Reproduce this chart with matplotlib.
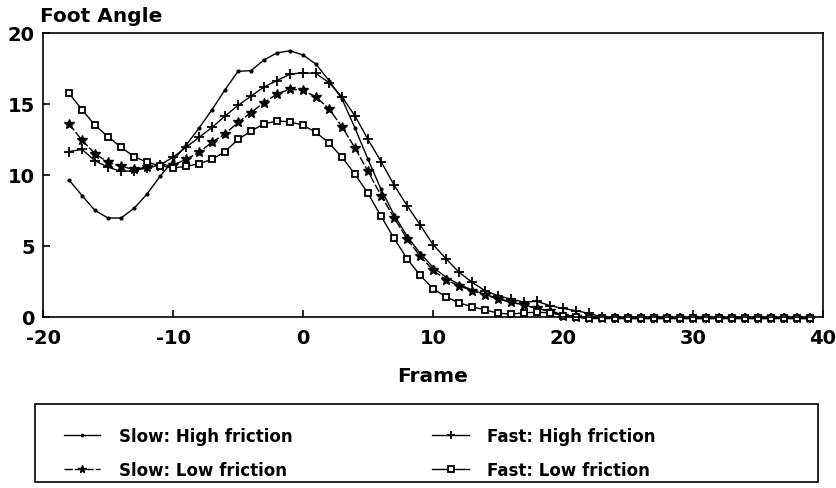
import numpy as np
import matplotlib
matplotlib.use("Agg")
import matplotlib.pyplot as plt
from matplotlib.patches import Rectangle

plt.rcParams['font.family'] = ['DejaVu Sans']
plt.rcParams['font.weight'] = 'bold'
plt.rcParams['axes.unicode_minus'] = False

# Frames -18 .. 39
frames = np.arange(-18, 40)

slow_high = [9.65, 8.55, 7.5, 6.97, 6.97, 7.65, 8.66, 9.9, 11.0, 12.1,
             13.3, 14.6, 16.0, 17.3, 17.35, 18.1, 18.6, 18.75, 18.45, 17.8,
             16.65, 15.35, 13.3, 11.1, 9.0, 7.2, 5.7, 4.5, 3.5, 2.8,
             2.3, 1.9, 1.6, 1.3, 1.05, 0.85, 0.6, 0.45, 0.15, 0.05,
             0.0] + [-0.1] * 17
fast_high = [11.65, 11.8, 11.0, 10.55, 10.25, 10.3, 10.5, 10.7, 11.25, 11.95,
             12.65, 13.35, 14.15, 14.9, 15.55, 16.2, 16.65, 17.1, 17.2, 17.15,
             16.5, 15.5, 14.15, 12.5, 10.95, 9.3, 7.85, 6.5, 5.1, 4.1,
             3.15, 2.45, 1.85, 1.5, 1.25, 1.05, 1.1, 0.8, 0.6, 0.45,
             0.25, 0.0] + [-0.1] * 16
slow_low = [13.6, 12.45, 11.5, 10.9, 10.6, 10.4, 10.55, 10.65, 10.7, 11.1,
            11.6, 12.3, 12.9, 13.7, 14.4, 15.1, 15.7, 16.05, 15.95, 15.5,
            14.65, 13.4, 11.9, 10.25, 8.55, 7.0, 5.5, 4.3, 3.3, 2.6,
            2.2, 1.85, 1.55, 1.27, 1.03, 0.85, 0.6, 0.4, 0.1, 0.0] + [-0.1] * 18
fast_low = [15.75, 14.6, 13.5, 12.7, 11.95, 11.3, 10.9, 10.65, 10.5, 10.6,
            10.8, 11.1, 11.65, 12.5, 13.1, 13.6, 13.8, 13.75, 13.5, 13.0,
            12.25, 11.25, 10.05, 8.7, 7.1, 5.55, 4.1, 2.95, 2.0, 1.4,
            1.0, 0.72, 0.5, 0.27, 0.2, 0.3, 0.33, 0.3, 0.1, 0.0] + [-0.1] * 18

labels = ["Slow: High friction", "Slow: Low friction",
          "Fast: High friction", "Fast: Low friction"]

fig = plt.figure(figsize=(8.37, 4.89), dpi=100)
ax = fig.add_axes([0.0514, 0.3497, 0.9319, 0.5808])

lw = 1.0
l1, = ax.plot(frames, slow_high, color="black", lw=lw, marker="o", ms=2,
              clip_on=False)
l2, = ax.plot(frames, slow_low, color="black", lw=lw, ls=(0, (6, 1.5)),
              marker="*", ms=7, clip_on=False)
l3, = ax.plot(frames, fast_high, color="black", lw=lw, marker="+", ms=7,
              mew=1.3, clip_on=False)
l4, = ax.plot(frames, fast_low, color="black", lw=lw, marker="s", ms=5,
              mfc="white", mew=1.3, clip_on=False)

ax.set_xlim(-20, 40)
ax.set_ylim(0, 20)
ax.set_xticks(np.arange(-20, 41, 10))
ax.set_yticks(np.arange(0, 21, 5))
ax.tick_params(direction="in", length=5, width=1.2, labelsize=14)
ax.tick_params(axis="x", pad=8)
ax.tick_params(axis="y", pad=6)
for lab in ax.get_xticklabels() + ax.get_yticklabels():
    lab.set_fontweight("bold")
for s in ax.spines.values():
    s.set_linewidth(1.2)

fig.text(0.048, 0.966, "Foot Angle", fontsize=14.5, fontweight="bold",
         ha="left", va="center")
fig.text(0.517, 0.231, "Frame", fontsize=14.5, fontweight="bold",
         ha="center", va="center")

# legend box
fig.patches.append(Rectangle((0.0418, 0.0123), 0.9355, 0.1595,
                             transform=fig.transFigure, fill=False,
                             lw=1.2, ec="black"))
fig.legend([l1, l2, l3, l4], labels, ncol=2, loc="upper left",
           bbox_to_anchor=(0.066, 0.142), frameon=False, borderpad=0,
           handlelength=2.2, handletextpad=1.1, columnspacing=8.4,
           labelspacing=0.95, prop={"size": 12, "weight": "bold"},
           markerscale=0.8)

fig.savefig("out.png", dpi=100)
